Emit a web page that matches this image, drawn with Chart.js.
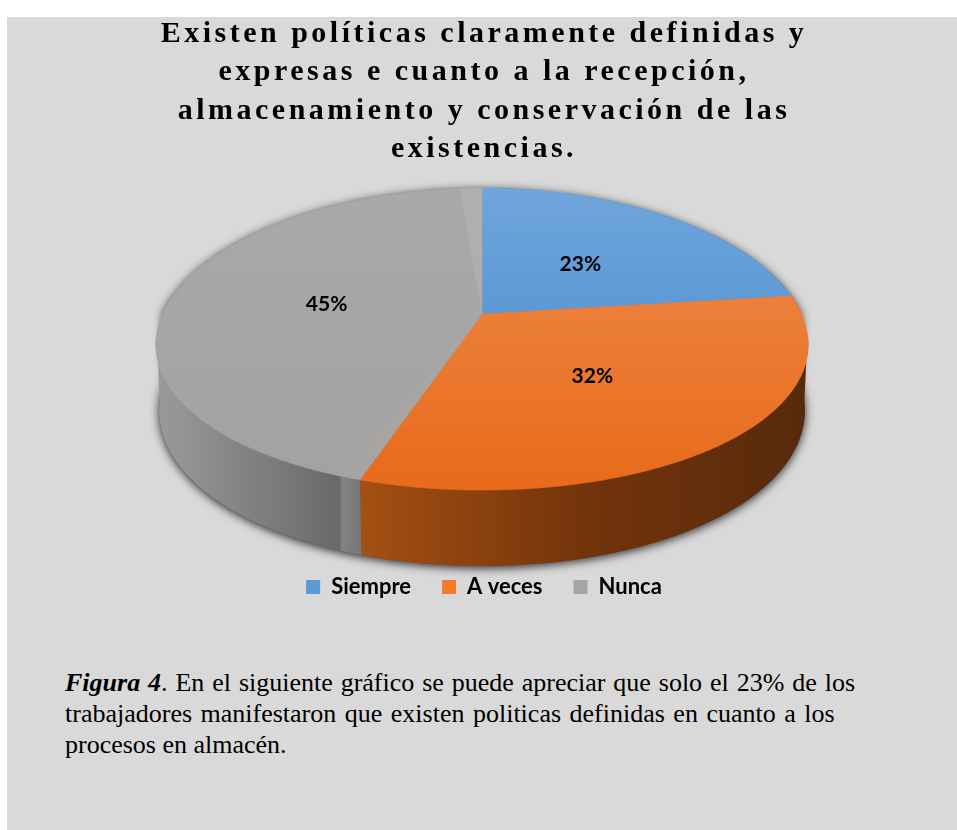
<!DOCTYPE html>
<html lang="es">
<head>
<meta charset="utf-8">
<title>Figura 4</title>
<script src="https://cdn.jsdelivr.net/npm/chart.js@4"></script>
<style>
  html, body { margin: 0; padding: 0; background: #fff; }
  body { width: 957px; height: 830px; overflow: hidden; position: relative; }
  #panel { position: absolute; left: 7px; top: 17px; width: 950px; height: 813px; background: #d9d9d9; }
  #chartBox { position: absolute; left: 0; top: 0; width: 950px; height: 591px; }
  .caption { position: absolute; left: 58px; margin: 0; white-space: nowrap; color: #000;
    font: 26px "Liberation Serif", serif; line-height: 31px; }
</style>
</head>
<body>
<div id="panel">
  <div id="chartBox"><canvas id="pieChart"></canvas></div>
  <p class="caption" style="top:650px;word-spacing:1.4px"><b><i>Figura 4</i></b>. En el siguiente gráfico se puede apreciar que solo el 23% de los</p>
  <p class="caption" style="top:681px;word-spacing:2px">trabajadores manifestaron que existen politicas definidas en cuanto a los</p>
  <p class="caption" style="top:712px">procesos en almacén.</p>
</div>
<script>
const categories = ["Siempre", "A veces", "Nunca"];
const percentages = [23, 32, 45];
const titleLines = [
  "Existen políticas claramente definidas y",
  "expresas e cuanto a la recepción,",
  "almacenamiento y conservación de las",
  "existencias."
];
const flatColors = ["#5b9bd5", "#f47b2c", "#a5a5a5"];
const topStops = [
  ["#6fa6db", "#3f86cf"],
  ["#ee8c4e", "#e96a1a"],
  ["#a9a9a9", "#a2a2a2"]
];
const wallStops = [
  [[0, "#2f6496"], [1, "#244c72"]],
  [[0, "#a45013"], [0.5, "#73340b"], [1, "#572a0c"]],
  [[0, "#9b9b9b"], [0.9, "#696969"], [0.91, "#838383"], [1, "#777777"]]
];

// tilted disc: the flat circle seen in perspective, the k values pull the near edge towards the viewer
const disc = { x: 475, y: 297, a: 319.6, b: 146.9, kx: 0.2, ky: 0.1656, depth: 63.4 };

function project(u, v) {
  const wy = 1 - disc.ky * v;
  return {
    x: disc.x + disc.a * u / (1 - disc.kx * v),
    y: disc.y + disc.b * v / wy,
    drop: disc.depth / wy
  };
}

function rimPoints(start, end) {
  const pts = [];
  const n = Math.max(2, Math.ceil((end - start) / 0.01));
  for (let i = 0; i <= n; i++) {
    const t = start + (end - start) * i / n;
    pts.push(project(Math.cos(t), Math.sin(t)));
  }
  return pts;
}

function tracePolygon(ctx, pts) {
  ctx.beginPath();
  pts.forEach((p, i) => (i ? ctx.lineTo(p.x, p.y) : ctx.moveTo(p.x, p.y)));
  ctx.closePath();
}

function drawWall(ctx, arc, i) {
  const pts = rimPoints(arc.startAngle, arc.endAngle).filter(p => p.y > disc.y + 20);
  if (pts.length < 2) return;
  const xs = pts.map(p => p.x);
  const grad = ctx.createLinearGradient(Math.min(...xs), 0, Math.max(...xs), 0);
  wallStops[i].forEach(s => grad.addColorStop(s[0], s[1]));
  const lower = pts.map(p => ({ x: disc.x + (p.x - disc.x) * 0.99, y: p.y + p.drop })).reverse();
  ctx.fillStyle = grad;
  tracePolygon(ctx, pts.concat(lower));
  ctx.fill();
}

function drawTop(ctx, arc, i) {
  const grad = ctx.createLinearGradient(0, disc.y - 126, 0, disc.y + 176);
  grad.addColorStop(0, topStops[i][0]);
  grad.addColorStop(1, topStops[i][1]);
  ctx.fillStyle = grad;
  tracePolygon(ctx, [project(0, 0)].concat(rimPoints(arc.startAngle, arc.endAngle)));
  ctx.fill();
  // hairline of the same paint closes the antialiasing gap between slices
  ctx.strokeStyle = grad;
  ctx.lineWidth = 0.6;
  ctx.stroke();
}

const pieDisc = {
  id: "pieDisc",
  beforeDraw(chart) {
    // only the title is letter-spaced
    const block = chart.titleBlock;
    if (block && !block.spaced) {
      const draw = block.draw;
      block.draw = function () {
        chart.ctx.save();
        chart.ctx.letterSpacing = "3.5px";
        draw.call(this);
        chart.ctx.restore();
      };
      block.spaced = true;
    }
  },
  beforeDatasetDraw(chart, args) {
    const ctx = chart.ctx;
    const arcs = args.meta.data;
    ctx.save();

    // soft shadow under the base
    const base = rimPoints(0, Math.PI).map(p => ({ x: disc.x + (p.x - disc.x) * 0.99, y: p.y + p.drop }));
    const rim = rimPoints(Math.PI, Math.PI * 2);
    ctx.save();
    ctx.shadowColor = "rgba(0,0,0,0.8)";
    ctx.shadowBlur = 10;
    ctx.shadowOffsetY = 2;
    ctx.fillStyle = "#555";
    tracePolygon(ctx, base.concat(rim));
    ctx.fill();
    ctx.restore();

    arcs.forEach((arc, i) => drawWall(ctx, arc, i));
    arcs.forEach((arc, i) => drawTop(ctx, arc, i));

    // lighter bands of the grey slice along its two straight edges
    const grey = arcs[2];
    ctx.fillStyle = "rgba(190,186,180,0.4)";
    tracePolygon(ctx, [project(0, 0)].concat(rimPoints(grey.endAngle - 0.085, grey.endAngle)));
    ctx.fill();
    ctx.fillStyle = "rgba(185,170,155,0.22)";
    tracePolygon(ctx, [project(0, 0)].concat(rimPoints(grey.startAngle, grey.startAngle + 0.05)));
    ctx.fill();

    // percentage labels halfway along each slice
    ctx.fillStyle = "#000";
    ctx.font = 'bold 21px Lato, sans-serif';
    ctx.textAlign = "center";
    ctx.textBaseline = "middle";
    arcs.forEach((arc, i) => {
      const mid = (arc.startAngle + arc.endAngle) / 2;
      const p = project(Math.cos(mid) * 0.5, Math.sin(mid) * 0.5);
      ctx.fillText(percentages[i] + "%", p.x, p.y + 2);
    });
    ctx.restore();
    return false;
  }
};

new Chart(document.getElementById("pieChart"), {
  type: "pie",
  data: {
    labels: categories,
    datasets: [{ data: percentages, backgroundColor: flatColors, borderWidth: 0 }]
  },
  options: {
    responsive: true,
    maintainAspectRatio: false,
    animation: false,
    layout: { padding: { left: 4 } },
    plugins: {
      tooltip: { enabled: false },
      title: {
        display: true,
        text: titleLines,
        color: "#000",
        padding: { top: -2, bottom: 0 },
        font: { family: '"Liberation Serif", serif', size: 30, weight: "bold", lineHeight: 1.28 }
      },
      legend: {
        position: "bottom",
        labels: {
          color: "#000",
          boxWidth: 14,
          boxHeight: 14,
          padding: 31,
          font: { family: "Lato, sans-serif", size: 22, weight: "bold" }
        }
      }
    }
  },
  plugins: [pieDisc]
});
</script>
</body>
</html>
